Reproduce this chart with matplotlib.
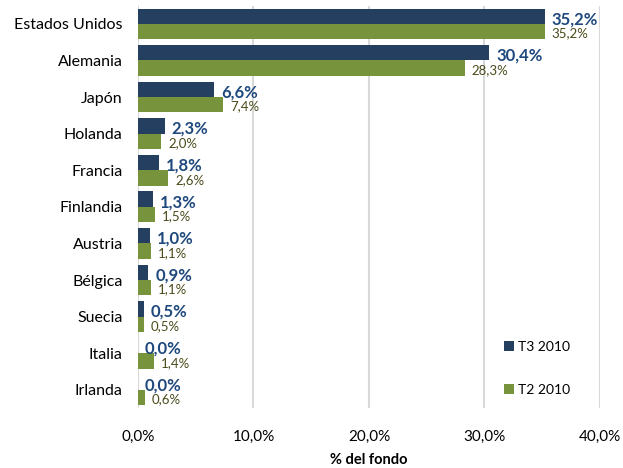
import matplotlib.pyplot as plt
import numpy as np

paises = ["Estados Unidos", "Alemania", "Japón", "Holanda", "Francia", "Finlandia",
          "Austria", "Bélgica", "Suecia", "Italia", "Irlanda"]
t3_2010 = [35.2, 30.4, 6.6, 2.3, 1.8, 1.3, 1.0, 0.9, 0.5, 0.0, 0.0]
t2_2010 = [35.2, 28.3, 7.4, 2.0, 2.6, 1.5, 1.1, 1.1, 0.5, 1.4, 0.6]
ticks = [0, 10, 20, 30, 40]

c_t3 = "#243F60"
c_t2 = "#77933C"

plt.rcParams['font.family'] = ['Lato', 'DejaVu Sans']

fig = plt.figure(figsize=(6.23, 4.68), dpi=100)
ax = fig.add_axes([0.2215, 0.128, 0.7415, 0.86])

y = np.arange(len(paises))
h = 0.42
ax.barh(y - h / 2, t3_2010, height=h, color=c_t3, label="T3 2010", zorder=3)
ax.barh(y + h / 2, t2_2010, height=h, color=c_t2, label="T2 2010", zorder=3)

def fmt(v):
    return f"{v:.1f}%".replace(".", ",")

for i in range(len(paises)):
    ax.annotate(fmt(t3_2010[i]), (t3_2010[i], y[i] - h / 2 + 0.08), xytext=(5, 0),
                textcoords="offset points", va="center", ha="left",
                fontsize=12, fontweight="bold", color="#1F497D")
    ax.annotate(fmt(t2_2010[i]), (t2_2010[i], y[i] + h / 2 + 0.05), xytext=(5, 0),
                textcoords="offset points", va="center", ha="left",
                fontsize=9.5, color="#4A4A1A")

ax.set_xlim(0, 40)
ax.set_ylim(len(paises) - 0.5, -0.5)
ax.set_yticks(y)
ax.set_yticklabels(paises, fontsize=11.5)
ax.set_xticks(ticks)
ax.set_xticklabels([fmt(t) for t in ticks], fontsize=11)
ax.tick_params(axis="both", length=0)
ax.tick_params(axis="x", pad=16)
ax.tick_params(axis="y", pad=11)
ax.grid(axis="x", color="#D9D9D9", linewidth=1.5, zorder=0)
for s in ax.spines.values():
    s.set_visible(False)
ax.set_xlabel("% del fondo", fontsize=10.5, fontweight="bold", labelpad=6)

ax.legend(loc="lower left", bbox_to_anchor=(0.765, 0.0), frameon=False,
          handlelength=0.7, handleheight=0.7, handletextpad=0.3,
          labelspacing=2.2, fontsize=10)

fig.savefig("out.png", dpi=100)
